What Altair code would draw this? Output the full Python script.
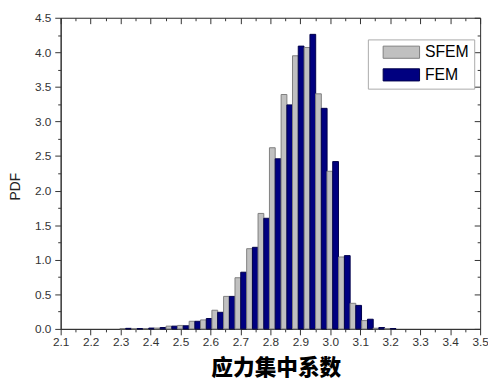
import altair as alt
import pandas as pd

# ---- data ----
bin_centers = [2.317, 2.355, 2.394, 2.432, 2.471, 2.509, 2.548, 2.586, 2.624, 2.663,
               2.701, 2.740, 2.778, 2.816, 2.855, 2.893, 2.932, 2.970, 3.008, 3.047,
               3.085, 3.124, 3.162, 3.200]
sfem_pdf = [0.005, 0.003, 0.005, 0.012, 0.04, 0.05, 0.11, 0.13, 0.27, 0.47,
            0.74, 1.16, 1.67, 2.62, 3.39, 3.95, 4.07, 3.40, 2.28, 1.04,
            0.37, 0.12, 0.01, 0.003]
fem_pdf = [0.008, 0.005, 0.012, 0.02, 0.04, 0.045, 0.11, 0.15, 0.24, 0.47,
           0.82, 1.18, 1.60, 2.46, 3.24, 4.09, 4.26, 3.19, 2.42, 1.06,
           0.34, 0.14, 0.02, 0.005]
bin_width = 0.0384
series_names = ["SFEM", "FEM"]
x_major = [round(2.1 + 0.1 * i, 1) for i in range(15)]
x_minor = [round(2.15 + 0.1 * i, 2) for i in range(14)]
y_major = [round(0.5 * i, 1) for i in range(10)]
y_minor = [round(0.25 + 0.5 * i, 2) for i in range(9)]

rows = []
for c, s, f in zip(bin_centers, sfem_pdf, fem_pdf):
    rows.append({"center": c, "series": "SFEM", "pdf": s})
    rows.append({"center": c, "series": "FEM", "pdf": f})
df = pd.DataFrame(rows)

W, H = 426, 316
AX = "#333333"
LBL = "#333333"

xscale = alt.Scale(domain=[2.1, 3.5], nice=False, zero=False)
yscale = alt.Scale(domain=[0, 4.5], nice=False)

base = alt.Chart(df).transform_calculate(
    x0=f"datum.series == 'SFEM' ? datum.center - {bin_width / 2} : datum.center",
    x1=f"datum.series == 'SFEM' ? datum.center : datum.center + {bin_width / 2}",
)

legend = alt.Legend(
    title=None, orient="none", legendX=312, legendY=22, direction="vertical",
    symbolType="M-3,-1H3V1H-3Z", symbolSize=152, symbolStrokeWidth=1,
    symbolOffset=21, labelFont="Liberation Sans", labelFontSize=16,
    labelColor="black", labelOffset=16, padding=5, strokeColor="#aaaaaa",
    fillColor="white", rowPadding=5,
)

bars = base.mark_rect(strokeWidth=1).encode(
    x=alt.X("x0:Q", scale=xscale, axis=alt.Axis(
        values=x_major, format=".1f", tickSize=6,
        title="应力集中系数", titleFont="Noto Sans CJK SC", titleFontWeight=900,
        titleFontSize=22, titleColor="black", titleX=218.5, titleY=39.5,
        titleAlign="center", titleBaseline="middle",
        labelFont="Liberation Sans", labelFontSize=12, labelColor=LBL,
        labelPadding=2, domainColor=AX, tickColor=AX, grid=False,
        labelOverlap=False, labelFlush=False,
    )),
    x2="x1:Q",
    y=alt.Y("pdf:Q", scale=yscale, axis=alt.Axis(
        values=y_major, format=".1f", tickSize=6,
        title="PDF", titleFont="Liberation Sans", titleFontWeight="normal",
        titleFontSize=14, titleColor="#222222", titleX=-45.5, titleY=171,
        titleAngle=-90, titleAlign="center", titleBaseline="middle",
        labelFont="Liberation Sans", labelFontSize=12, labelColor=LBL,
        labelPadding=4, domainColor=AX, tickColor=AX, grid=False,
        labelOverlap=False, labelFlush=False,
    )),
    y2=alt.datum(0),
    color=alt.Color("series:N", scale=alt.Scale(domain=series_names, range=["#c0c0c0", "#000080"]), legend=legend),
    stroke=alt.Stroke("series:N", scale=alt.Scale(domain=series_names, range=["#7f7f7f", "#00004a"]), legend=legend),
)

# minor ticks on bottom/left (outward), no labels
minor = base.mark_rect(opacity=0).encode(
    x=alt.X("x0:Q", scale=xscale, axis=alt.Axis(
        orient="bottom", labels=False, title=None, values=x_minor, tickSize=3,
        domainColor=AX, tickColor=AX, grid=False)),
    x2="x1:Q",
    y=alt.Y("pdf:Q", scale=yscale, axis=alt.Axis(
        orient="left", labels=False, title=None, values=y_minor, tickSize=3,
        domainColor=AX, tickColor=AX, grid=False)),
    y2=alt.datum(0),
)

minor_x = "abs(datum.value*10 - round(datum.value*10)) > 0.01"
minor_y = "abs(datum.value*2 - round(datum.value*2)) > 0.01"

# mirror axes on top/right with inward ticks
mirror = base.mark_rect(opacity=0).encode(
    x=alt.X("x0:Q", scale=xscale, axis=alt.Axis(
        orient="top", labels=False, title=None, values=x_major + x_minor,
        tickSize={"condition": {"test": minor_x, "value": -3}, "value": -6},
        domainColor=AX, tickColor=AX, grid=False)),
    x2="x1:Q",
    y=alt.Y("pdf:Q", scale=yscale, axis=alt.Axis(
        orient="right", labels=False, title=None, values=y_major + y_minor,
        tickSize={"condition": {"test": minor_y, "value": -3}, "value": -6},
        domainColor=AX, tickColor=AX, grid=False)),
    y2=alt.datum(0),
)

chart = alt.layer(bars, minor, mirror).resolve_axis(x="independent", y="independent").properties(
    width=W, height=H,
    autosize=alt.AutoSizeParams(type="none"),
    padding={"left": 53.5, "top": 7, "right": 8, "bottom": 50},
).configure_view(stroke=None).configure(background="white")

chart.save("out.html", embed_options={"renderer": "svg", "actions": False})
